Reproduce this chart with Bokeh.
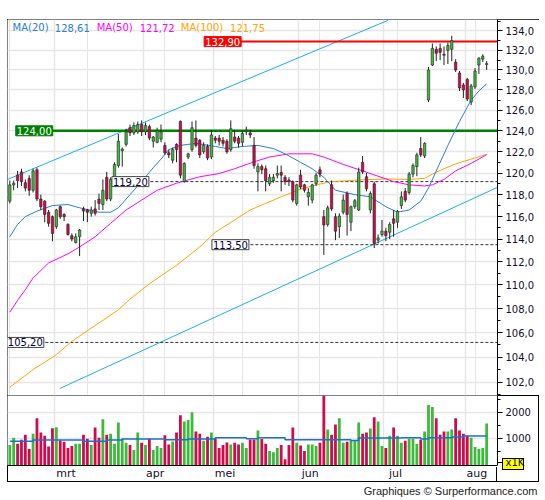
from bokeh.plotting import figure
from bokeh.layouts import column
from bokeh.models import (Range1d, FixedTicker, CustomJSTickFormatter, Grid, Label,
                          ColumnDataSource, PrintfTickFormatter)
from bokeh.embed import file_html
from bokeh.resources import INLINE

# ---------------- data ----------------
opens = [117.4, 118.9, 119.8, 120.1, 119.1, 119.5, 118.4, 120.3, 117.6, 117.4,
         116.4, 116.0, 115.1, 116.9, 116.2, 115.3, 114.3, 113.7, 114.2, 116.7,
         116.6, 116.3, 116.7, 117.6, 117.1, 119.6, 117.6, 119.3, 120.7, 122.1,
         122.7, 124.3, 123.8, 123.9, 124.6, 123.9, 124.4, 123.0, 122.9, 123.2,
         122.6, 121.9, 121.2, 122.7, 124.9, 119.2, 121.5, 122.2, 123.3, 123.1,
         122.0, 122.5, 121.5, 123.3, 123.3, 123.1, 123.0, 122.2, 123.4, 123.3,
         122.9, 123.9, 123.8, 122.6, 120.1, 120.6, 120.4, 119.0, 119.3, 119.8,
         120.05, 119.6, 119.35, 119.2, 117.2, 119.8, 118.9, 117.8, 117.5, 119.0,
         120.3, 116.0, 115.3, 118.9, 116.0, 115.1, 116.4, 118.1, 115.5, 116.9,
         116.6, 121.0, 119.65, 116.6, 119.0, 113.9, 114.4, 114.7, 114.6, 115.8,
         115.5, 117.0, 118.3, 118.2, 119.9, 120.6, 122.3, 121.6, 127.0, 130.5,
         132.1, 132.2, 131.6, 132.0, 132.1, 130.8, 129.7, 128.5, 129.05, 126.8,
         128.3, 130.5, 131.1, 130.55]
highs = [119.3, 119.3, 120.2, 120.4, 119.4, 119.8, 120.4, 120.5, 118.0, 117.5,
         116.6, 116.1, 116.7, 117.0, 116.3, 115.4, 114.5, 114.5, 114.9, 116.9,
         116.7, 116.9, 117.5, 118.1, 119.4, 120.1, 119.6, 121.0, 123.7, 122.4,
         124.2, 124.6, 124.8, 124.9, 125.0, 124.8, 124.6, 123.5, 124.3, 124.6,
         122.9, 122.2, 122.4, 122.8, 125.0, 121.0, 121.9, 124.9, 125.0, 123.2,
         122.9, 122.7, 124.1, 123.5, 123.6, 123.4, 123.2, 125.0, 124.1, 123.5,
         124.0, 124.4, 124.1, 123.4, 120.9, 120.8, 120.7, 119.9, 119.9, 120.7,
         120.7, 119.8, 119.6, 119.3, 119.0, 120.3, 119.0, 118.6, 119.0, 120.0,
         120.6, 116.6, 117.0, 119.3, 116.3, 116.3, 118.0, 118.3, 117.0, 117.6,
         120.5, 121.6, 120.0, 118.3, 119.2, 114.4, 115.7, 115.0, 115.5, 116.6,
         116.6, 118.3, 118.6, 120.1, 120.9, 121.9, 123.4, 122.9, 130.3, 132.7,
         132.4, 132.7, 132.4, 132.8, 133.5, 131.1, 129.9, 128.7, 129.2, 128.6,
         130.2, 131.3, 131.6, 130.9]
lows = [117.2, 118.4, 118.6, 118.8, 118.3, 117.9, 118.2, 117.4, 116.6, 115.5,
        115.1, 113.8, 114.9, 115.8, 115.6, 114.3, 113.8, 113.6, 112.5, 115.6,
        115.5, 116.0, 116.1, 116.6, 116.6, 117.4, 117.4, 119.1, 120.5, 120.6,
        122.5, 123.5, 123.6, 123.7, 123.5, 123.6, 123.1, 122.4, 122.8, 122.9,
        121.7, 121.4, 120.9, 121.0, 119.5, 119.1, 121.3, 122.0, 122.4, 121.4,
        121.8, 121.2, 121.3, 122.8, 122.6, 122.5, 121.8, 122.0, 122.8, 122.4,
        122.5, 123.6, 123.3, 120.4, 118.3, 119.9, 118.3, 118.8, 119.1, 119.5,
        118.3, 118.9, 118.8, 117.3, 117.0, 118.5, 118.2, 117.0, 117.2, 118.8,
        119.6, 112.6, 115.1, 116.5, 113.9, 114.1, 116.2, 114.3, 114.7, 116.7,
        116.5, 119.9, 118.3, 116.3, 113.2, 113.6, 114.2, 113.8, 114.0, 114.2,
        115.0, 116.7, 117.3, 118.0, 119.6, 119.7, 121.5, 121.4, 126.8, 130.4,
        130.9, 131.0, 130.5, 130.6, 130.9, 129.8, 127.9, 127.2, 126.9, 126.5,
        128.1, 129.6, 130.8, 130.0]
closes = [118.9, 119.05, 119.3, 119.2, 118.6, 118.4, 120.2, 117.6, 116.9, 116.2,
          115.4, 114.5, 116.6, 116.0, 116.0, 114.4, 114.0, 114.2, 114.8, 116.5,
          116.4, 116.6, 116.3, 117.2, 118.4, 117.6, 119.4, 120.8, 123.0, 122.25,
          123.9, 123.8, 124.5, 124.6, 123.9, 124.5, 123.3, 123.4, 124.0, 123.9,
          121.9, 121.7, 122.2, 122.2, 119.8, 120.9, 121.8, 124.3, 122.6, 121.7,
          122.6, 121.4, 123.6, 123.1, 123.0, 122.8, 122.0, 124.2, 123.0, 122.8,
          123.75, 124.05, 123.6, 120.7, 120.6, 120.3, 119.3, 119.6, 119.6, 119.95,
          119.8, 119.2, 119.2, 117.5, 118.9, 118.7, 118.4, 118.2, 118.9, 119.8,
          119.9, 115.25, 116.8, 116.7, 114.7, 116.05, 117.5, 116.2, 116.9, 117.45,
          120.1, 120.1, 118.55, 118.1, 113.6, 114.1, 114.7, 114.3, 115.3, 115.4,
          116.5, 117.8, 117.5, 119.9, 120.7, 121.7, 121.7, 122.8, 130.0, 132.2,
          131.7, 131.8, 131.5, 132.5, 133.0, 130.0, 128.2, 128.0, 127.1, 128.4,
          129.9, 131.2, 131.4, 130.65]
volumes = [766, 1039, 805, 961, 1156, 610, 1195, 1779, 1234, 1117,
           701, 1403, 1442, 935, 883, 649, 727, 805, 805, 1156,
           1000, 766, 1429, 1039, 1740, 1156, 1195, 805, 1623, 1000,
           844, 766, 571, 1234, 844, 766, 1000, 571, 727, 649,
           1130, 779, 896, 1234, 1896, 1662, 1714, 2013, 1273, 1195,
           922, 1078, 1234, 1013, 649, 766, 857, 779, 844, 779,
           844, 649, 974, 974, 1312, 987, 805, 532, 481, 649,
           766, 221, 766, 1429, 844, 740, 532, 779, 779, 727,
           844, 2900, 1351, 1156, 1545, 1779, 844, 883, 935, 935,
           1623, 1195, 1234, 1390, 1818, 1662, 727, 649, 1117, 1429,
           1117, 844, 922, 1000, 1000, 805, 961, 1273, 2286, 2208,
           1779, 1156, 1273, 1273, 1351, 1779, 1312, 1195, 1117, 1039,
           688, 610, 649, 1584]

month_starts = [12, 35, 53, 75, 97, 118]
month_labels = ["mrt", "apr", "mei", "jun", "jul", "aug"]

ma20_x = [0, 2, 4, 7, 11, 15, 18, 23, 26, 28, 31, 34, 37, 39, 41, 44, 48, 53, 56, 60,
          64, 68, 71, 75, 78, 81, 84, 89, 93, 97, 100, 103, 106, 108, 110, 113, 116,
          119, 121, 123]
ma20_y = [114.2, 115.3, 116.0, 116.5, 117.0, 117.1, 116.8, 116.4, 116.4, 116.8, 118.0,
          119.2, 120.5, 121.3, 122.2, 122.6, 122.8, 122.5, 122.3, 122.5, 122.6, 122.3,
          121.8, 121.0, 120.4, 119.6, 118.4, 118.0, 117.8, 116.9, 116.4, 116.6, 117.4,
          118.6, 120.2, 122.6, 124.9, 127.0, 127.9, 128.61]
ma50_x = [0, 2, 4, 6, 10, 15, 18, 22, 26, 30, 34, 38, 43, 49, 54, 58, 63, 67, 72, 78,
          81, 86, 91, 95, 99, 103, 107, 109, 112, 115, 119, 123]
ma50_y = [107.7, 108.7, 109.6, 110.6, 111.9, 112.7, 113.3, 114.2, 115.4, 116.6, 117.5,
          118.4, 119.05, 119.65, 119.95, 120.4, 121.05, 121.5, 121.8, 121.8, 121.5,
          120.8, 120.2, 119.7, 119.2, 118.9, 118.8, 118.9, 119.4, 120.2, 120.9, 121.72]
ma100_x = [0, 6, 12, 16, 23, 28, 31, 36, 43, 49, 53, 58, 62, 66, 70, 75, 79, 83, 90,
           97, 103, 107, 109, 112, 115, 119, 123]
ma100_y = [101.6, 103.0, 104.2, 105.3, 106.8, 107.9, 108.8, 110.1, 111.7, 113.3, 114.6,
           115.7, 116.6, 117.2, 117.8, 118.5, 118.9, 119.2, 119.35, 119.45, 119.4,
           119.5, 119.9, 120.4, 120.85, 121.3, 121.75]

vol_ma_start = [0, 6, 19, 25, 29, 40, 46, 53, 61, 64, 71, 88, 90, 101, 106, 108, 114, 117]
vol_ma_val = [909, 948, 909, 948, 987, 961, 987, 1039, 1000, 1039, 961, 935, 1026,
              1039, 987, 1039, 1065, 1104]

levels = [132.90, 124.00, 119.20, 113.50, 105.20]
level_label_x = [54.9, 6.3, 31.1, 56.9, 4.0]

upper_trend_x = [-0.6, 97.5]
upper_trend_y = [119.4, 135.1]
lower_trend_x = [12.9, 125.8]
lower_trend_y = [101.5, 118.67]

price_ticks = list(range(102, 135, 2))
price_minor = list(range(101, 136, 2))
vol_ticks = [1000, 2000]
vol_minor = [500, 1500, 2500]
vol_unit_tick = 90          # where the "x1K" unit tag sits on the volume axis
vol_unit_text = "x1K"

# ---------------- styling ----------------
X0, X1 = -0.6, 125.8
FONT = "DejaVu Sans"
GREEN, RED = "#3cba3c", "#d4094b"
C20, C50, C100 = "#2a7fd8", "#ff00ff", "#ffa500"
TREND = "#1aaeef"
GRID = "#e6e6e6"
TXT = "#10102a"
W = 532

n = len(closes)
idx = list(range(n))
up = [c >= o for o, c in zip(opens, closes)]
src = ColumnDataSource(dict(
    x=idx, h=highs, l=lows,
    top=[max(o, c) for o, c in zip(opens, closes)],
    bot=[min(o, c) for o, c in zip(opens, closes)],
    col=[GREEN if u else RED for u in up],
    v=volumes,
))

grid_x = [s - 0.5 for s in month_starts]
label_x = [s + 2.5 for s in month_starts]

# ---------------- price panel ----------------
p = figure(width=W, height=376, x_range=Range1d(X0, X1),
           y_range=Range1d(100.95, 135.2), y_axis_type="log",
           x_axis_location=None, y_axis_location="right",
           toolbar_location=None, output_backend="svg",
           min_border_left=0, min_border_right=42, min_border_top=0,
           min_border_bottom=0, outline_line_color=None,
           margin=(19, 0, 0, 7),
           styles={"outline": "1px solid #000", "outline-offset": "-1px"})
tick = FixedTicker(ticks=price_ticks, minor_ticks=price_minor)
p.yaxis.ticker = tick
p.ygrid.ticker = tick
p.ygrid.grid_line_color = GRID
p.ygrid.grid_line_width = 1.5
p.add_layout(Grid(dimension=0, ticker=FixedTicker(ticks=grid_x),
                  grid_line_color=GRID, grid_line_width=1.5))
ax = p.yaxis[0]
ax.formatter = CustomJSTickFormatter(code="return tick.toFixed(1).replace('.', ',');")
ax.major_label_text_font = FONT
ax.major_label_text_font_size = "10px"
ax.major_label_text_color = TXT
ax.major_tick_out = 5
ax.major_tick_in = 0
ax.minor_tick_out = 3
ax.minor_tick_in = 0
ax.major_label_standoff = 3
ax.axis_line_color = "black"

p.line(upper_trend_x, upper_trend_y, color=TREND, line_width=1)
p.line(lower_trend_x, lower_trend_y, color=TREND, line_width=1)

p.segment(x0=level_label_x[0:1], y0=levels[0:1], x1=[X1], y1=levels[0:1],
          color="#ff0000", line_width=2)
p.segment(x0=level_label_x[1:2], y0=levels[1:2], x1=[X1], y1=levels[1:2],
          color="#008000", line_width=2.5)
p.segment(x0=level_label_x[2:], y0=levels[2:], x1=[X1] * 3, y1=levels[2:],
          color="#333333", line_width=1, line_dash="3 2")

p.line(ma100_x, ma100_y, color=C100, line_width=1)
p.line(ma50_x, ma50_y, color=C50, line_width=1)
p.line(ma20_x, ma20_y, color=C20, line_width=1)

p.segment(x0="x", y0="l", x1="x", y1="h", source=src, color="#222222", line_width=1)
p.vbar(x="x", top="top", bottom="bot", width=0.62, source=src,
       fill_color="col", line_color="#222222", line_width=0.6)

lab_style = [("#ff0000", "white", "#ff0000"), ("#008000", "white", "#008000"),
             ("white", "#000033", "#444444"), ("white", "#000033", "#444444"),
             ("white", "#000033", "#444444")]
for lv, lx, (bg, fg, bd) in zip(levels, level_label_x, lab_style):
    p.add_layout(Label(x=lx, y=lv, text=f"{lv:.2f}".replace(".", ","),
                       text_align="center", text_baseline="middle",
                       text_font=FONT, text_font_size="10px", text_color=fg,
                       background_fill_color=bg, border_line_color=bd,
                       border_line_width=1, padding=1))

legend = [("MA(20)", 0.7, C20), (f"{ma20_y[-1]:.2f}".replace(".", ","), 11.6, C20),
          ("MA(50)", 22.4, C50), (f"{ma50_y[-1]:.2f}".replace(".", ","), 33.5, C50),
          ("MA(100)", 44.1, C100), (f"{ma100_y[-1]:.2f}".replace(".", ","), 56.8, C100)]
for t, lx, c in legend:
    p.add_layout(Label(x=lx, y=134.35, text=t, text_align="left",
                       text_baseline="middle", text_font=FONT,
                       text_font_size="10px", text_color=c))

# ---------------- volume panel ----------------
# CSS background paints: the vertical divider under the volume axis and the
# yellow tag box behind the "x1K" unit label.
pv_bg = ", ".join([
    "linear-gradient(#000,#000) no-repeat 489px 72px / 1px 15px",
    "linear-gradient(#000,#000) no-repeat 495px 63px / 1px 12px",
    "linear-gradient(#000,#000) no-repeat 516px 63px / 1px 12px",
    "linear-gradient(#000,#000) no-repeat 495px 63px / 22px 1px",
    "linear-gradient(#000,#000) no-repeat 495px 74px / 22px 1px",
    "linear-gradient(#ffff00,#ffff00) no-repeat 495px 63px / 22px 12px",
])
pv = figure(width=W, height=87, x_range=p.x_range, y_range=Range1d(-20, 2650),
            y_axis_location="right", toolbar_location=None, output_backend="svg",
            min_border_left=0, min_border_right=42, min_border_top=0,
            min_border_bottom=15, outline_line_color=None, border_fill_alpha=0,
            margin=(0, 0, 0, 7),
            styles={"outline": "1px solid #000", "outline-offset": "-1px",
                    "background": pv_bg})
pv.ygrid.ticker = FixedTicker(ticks=vol_ticks)
pv.ygrid.grid_line_color = GRID
pv.ygrid.grid_line_width = 1.5
pv.xgrid.ticker = FixedTicker(ticks=grid_x)
pv.xgrid.grid_line_color = GRID
pv.xgrid.grid_line_width = 1.5
vax = pv.yaxis[0]
vax.ticker = FixedTicker(ticks=[vol_unit_tick] + vol_ticks, minor_ticks=vol_minor)
vax.formatter = PrintfTickFormatter(format="%d")
vax.major_label_overrides = {vol_unit_tick: vol_unit_text}
vax.major_label_text_font = FONT
vax.major_label_text_font_size = "10px"
vax.major_label_text_color = TXT
vax.major_tick_out = 5
vax.major_tick_in = 0
vax.minor_tick_out = 3
vax.minor_tick_in = 0
vax.major_label_standoff = 3
vax.axis_line_color = "black"
xax = pv.xaxis[0]
xax.ticker = FixedTicker(ticks=label_x)
xax.major_label_overrides = {lx: m for lx, m in zip(label_x, month_labels)}
xax.major_tick_out = 0
xax.major_tick_in = 0
xax.minor_tick_line_color = None
xax.major_label_standoff = 1
xax.major_label_text_font = FONT
xax.major_label_text_font_size = "11px"
xax.major_label_text_color = TXT
xax.axis_line_color = "black"

pv.vbar(x="x", top="v", bottom=0, width=0.72, source=src, fill_color="col",
        line_color=None)
pv.step(vol_ma_start + [idx[-1]], vol_ma_val + [vol_ma_val[-1]], mode="after",
        color="#1a70d0", line_width=1.5)

# ---------------- footer ----------------
pf = figure(width=W, height=17, toolbar_location=None, output_backend="svg",
            x_axis_location=None, y_axis_location=None, min_border=0,
            outline_line_color=None, border_fill_alpha=0, background_fill_alpha=0,
            margin=(0, 0, 0, 7))
pf.title.text = "Graphiques \u00a9 Surperformance.com"
pf.title.align = "right"
pf.title.text_font = "Liberation Sans"
pf.title.text_font_size = "11px"
pf.title.text_font_style = "normal"
pf.title.text_color = "#222222"
pf.title.standoff = 0
pf.title.offset = -40
pf.grid.visible = False
pf.scatter([0], [0], alpha=0)

layout = column(p, pv, pf, spacing=0)
open("out.html", "w").write(file_html(layout, INLINE))
